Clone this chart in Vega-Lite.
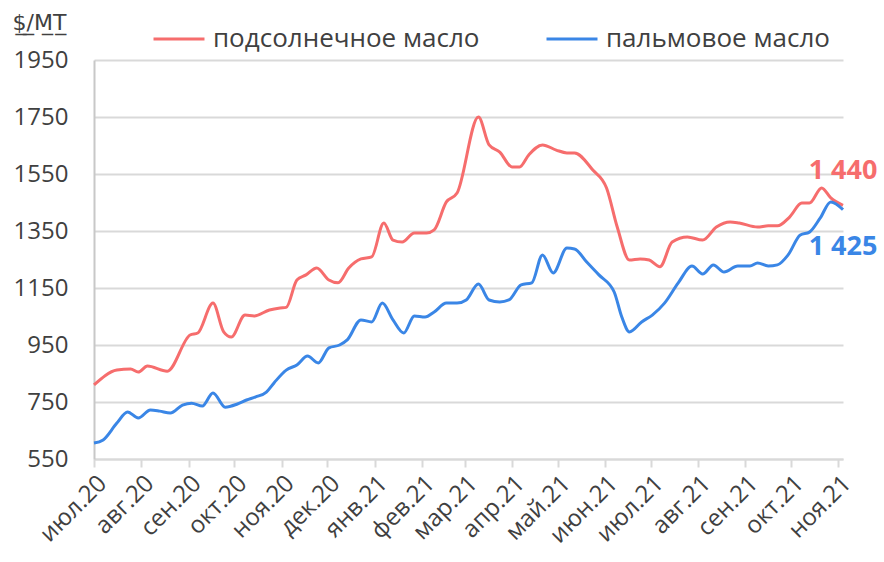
{
  "$schema": "https://vega.github.io/schema/vega-lite/v6.json",
  "width": 749,
  "height": 399,
  "autosize": {"type": "none"},
  "padding": {"left": 94, "top": 60, "right": 41, "bottom": 103},
  "background": "white",
  "config": {"view": {"stroke": null}, "font": "Open Sans"},
  "datasets": {
    "sun": [
      {"date": "2020-07-01", "v": 810}, {"date": "2020-07-16", "v": 862}, {"date": "2020-07-25", "v": 866},
      {"date": "2020-07-30", "v": 855}, {"date": "2020-08-05", "v": 876}, {"date": "2020-08-18", "v": 858},
      {"date": "2020-09-02", "v": 985}, {"date": "2020-09-07", "v": 992}, {"date": "2020-09-17", "v": 1097},
      {"date": "2020-09-24", "v": 996}, {"date": "2020-09-29", "v": 978}, {"date": "2020-10-08", "v": 1055},
      {"date": "2020-10-14", "v": 1052}, {"date": "2020-10-24", "v": 1073}, {"date": "2020-10-31", "v": 1080},
      {"date": "2020-11-04", "v": 1082}, {"date": "2020-11-11", "v": 1178}, {"date": "2020-11-17", "v": 1196},
      {"date": "2020-11-24", "v": 1220}, {"date": "2020-12-02", "v": 1178}, {"date": "2020-12-08", "v": 1168},
      {"date": "2020-12-15", "v": 1220}, {"date": "2020-12-23", "v": 1252}, {"date": "2020-12-30", "v": 1259},
      {"date": "2021-01-07", "v": 1378}, {"date": "2021-01-13", "v": 1318}, {"date": "2021-01-19", "v": 1311},
      {"date": "2021-01-27", "v": 1343}, {"date": "2021-02-04", "v": 1343}, {"date": "2021-02-09", "v": 1354},
      {"date": "2021-02-17", "v": 1452}, {"date": "2021-02-24", "v": 1483}, {"date": "2021-03-10", "v": 1750},
      {"date": "2021-03-17", "v": 1652}, {"date": "2021-03-24", "v": 1627}, {"date": "2021-04-01", "v": 1575},
      {"date": "2021-04-06", "v": 1575}, {"date": "2021-04-12", "v": 1617}, {"date": "2021-04-21", "v": 1652},
      {"date": "2021-04-30", "v": 1634}, {"date": "2021-05-07", "v": 1624}, {"date": "2021-05-12", "v": 1624},
      {"date": "2021-05-24", "v": 1564}, {"date": "2021-06-02", "v": 1501}, {"date": "2021-06-09", "v": 1364},
      {"date": "2021-06-17", "v": 1248}, {"date": "2021-06-24", "v": 1252}, {"date": "2021-06-30", "v": 1248},
      {"date": "2021-07-07", "v": 1225}, {"date": "2021-07-15", "v": 1311}, {"date": "2021-07-25", "v": 1329},
      {"date": "2021-08-04", "v": 1318}, {"date": "2021-08-13", "v": 1364}, {"date": "2021-08-22", "v": 1382},
      {"date": "2021-08-28", "v": 1378}, {"date": "2021-09-09", "v": 1364}, {"date": "2021-09-16", "v": 1368},
      {"date": "2021-09-22", "v": 1368}, {"date": "2021-09-30", "v": 1399}, {"date": "2021-10-08", "v": 1448},
      {"date": "2021-10-13", "v": 1448}, {"date": "2021-10-21", "v": 1501}, {"date": "2021-10-27", "v": 1466},
      {"date": "2021-11-04", "v": 1440, "label": "1 440"}
    ],
    "palm": [
      {"date": "2020-07-01", "v": 606}, {"date": "2020-07-07", "v": 617}, {"date": "2020-07-16", "v": 676},
      {"date": "2020-07-23", "v": 715}, {"date": "2020-07-30", "v": 694}, {"date": "2020-08-07", "v": 722},
      {"date": "2020-08-13", "v": 718}, {"date": "2020-08-20", "v": 711}, {"date": "2020-08-28", "v": 739},
      {"date": "2020-09-03", "v": 746}, {"date": "2020-09-10", "v": 736}, {"date": "2020-09-17", "v": 782},
      {"date": "2020-09-25", "v": 732}, {"date": "2020-10-03", "v": 743}, {"date": "2020-10-09", "v": 757},
      {"date": "2020-10-15", "v": 768}, {"date": "2020-10-22", "v": 785}, {"date": "2020-10-27", "v": 817},
      {"date": "2020-11-04", "v": 862}, {"date": "2020-11-11", "v": 880}, {"date": "2020-11-18", "v": 911},
      {"date": "2020-11-25", "v": 887}, {"date": "2020-12-02", "v": 940}, {"date": "2020-12-09", "v": 950},
      {"date": "2020-12-14", "v": 968}, {"date": "2020-12-23", "v": 1038}, {"date": "2020-12-30", "v": 1031},
      {"date": "2021-01-06", "v": 1097}, {"date": "2021-01-13", "v": 1038}, {"date": "2021-01-20", "v": 992},
      {"date": "2021-01-27", "v": 1052}, {"date": "2021-02-03", "v": 1048}, {"date": "2021-02-09", "v": 1066},
      {"date": "2021-02-17", "v": 1097}, {"date": "2021-02-24", "v": 1097}, {"date": "2021-03-02", "v": 1108},
      {"date": "2021-03-10", "v": 1164}, {"date": "2021-03-17", "v": 1108}, {"date": "2021-03-24", "v": 1101},
      {"date": "2021-03-30", "v": 1108}, {"date": "2021-04-07", "v": 1161}, {"date": "2021-04-14", "v": 1168},
      {"date": "2021-04-21", "v": 1266}, {"date": "2021-04-28", "v": 1203}, {"date": "2021-05-07", "v": 1290},
      {"date": "2021-05-12", "v": 1287}, {"date": "2021-05-20", "v": 1241}, {"date": "2021-05-28", "v": 1196},
      {"date": "2021-06-07", "v": 1136}, {"date": "2021-06-12", "v": 1048}, {"date": "2021-06-17", "v": 996},
      {"date": "2021-06-25", "v": 1031}, {"date": "2021-07-02", "v": 1055}, {"date": "2021-07-10", "v": 1097},
      {"date": "2021-07-19", "v": 1168}, {"date": "2021-07-28", "v": 1227}, {"date": "2021-08-04", "v": 1199},
      {"date": "2021-08-11", "v": 1231}, {"date": "2021-08-18", "v": 1206}, {"date": "2021-08-27", "v": 1227},
      {"date": "2021-09-04", "v": 1227}, {"date": "2021-09-09", "v": 1238}, {"date": "2021-09-16", "v": 1227},
      {"date": "2021-09-22", "v": 1231}, {"date": "2021-09-29", "v": 1266}, {"date": "2021-10-07", "v": 1336},
      {"date": "2021-10-13", "v": 1346}, {"date": "2021-10-20", "v": 1395}, {"date": "2021-10-27", "v": 1452},
      {"date": "2021-11-04", "v": 1425, "label": "1 425"}
    ]
  },
  "data": {"name": "sun"},
  "encoding": {
    "x": {
      "field": "date", "type": "temporal",
      "scale": {"domain": [{"year": 2020, "month": 7, "date": 1}, {"year": 2021, "month": 11, "date": 4}]},
      "axis": {
        "title": null, "grid": false,
        "tickCount": {"interval": "month", "step": 1},
        "labelExpr": "['янв','фев','мар','апр','май','июн','июл','авг','сен','окт','ноя','дек'][month(datum.value)] + '.' + timeFormat(datum.value, '%y')",
        "labelAngle": -45, "labelFontSize": 24, "labelColor": "#404040", "labelPadding": 4,
        "labelOverlap": false, "labelFlush": false,
        "domainColor": "#D9D9D9", "domainWidth": 2,
        "tickColor": "#D9D9D9", "tickWidth": 2, "tickSize": 8
      }
    },
    "y": {
      "field": "v", "type": "quantitative",
      "scale": {"domain": [550, 1950], "nice": false, "zero": false},
      "axis": {
        "values": [550, 750, 950, 1150, 1350, 1550, 1750, 1950], "format": "d",
        "grid": true, "gridColor": "#D9D9D9", "gridWidth": 2,
        "domainColor": "#C8C8C8", "domainWidth": 2, "ticks": false,
        "labelFontSize": 24, "labelColor": "#404040", "labelPadding": 26,
        "title": "$̲/̲М̲Т̲", "titleFont": "DejaVu Sans", "titleAngle": 0, "titleAlign": "left", "titleBaseline": "middle",
        "titleX": -82, "titleY": -38, "titleFontSize": 22, "titleFontWeight": "normal", "titleColor": "#404040"
      }
    }
  },
  "layer": [
    {
      "data": {"name": "sun"},
      "transform": [{"calculate": "'подсолнечное масло'", "as": "s"}],
      "mark": {"type": "line", "interpolate": "monotone", "strokeWidth": 3},
      "encoding": {
        "color": {
          "field": "s", "type": "nominal",
          "scale": {"domain": ["подсолнечное масло", "пальмовое масло"], "range": ["#F66D6D", "#3A86E6"]},
          "legend": {
            "orient": "none", "legendX": 58, "legendY": -48, "direction": "horizontal", "title": null,
            "symbolType": "stroke", "symbolSize": 2600, "symbolStrokeWidth": 3,
            "labelFontSize": 26, "labelColor": "#404040", "labelOffset": 7, "columnPadding": 60, "labelLimit": 400
          }
        }
      }
    },
    {
      "data": {"name": "palm"},
      "transform": [{"calculate": "'пальмовое масло'", "as": "s"}],
      "mark": {"type": "line", "interpolate": "monotone", "strokeWidth": 3},
      "encoding": {"color": {"field": "s", "type": "nominal"}}
    },
    {
      "data": {"name": "sun"},
      "transform": [{"filter": "datum.label"}],
      "mark": {"type": "text", "dy": -34, "align": "center", "fontSize": 27, "fontWeight": "bold", "color": "#F66D6D"},
      "encoding": {"text": {"field": "label"}}
    },
    {
      "data": {"name": "palm"},
      "transform": [{"filter": "datum.label"}],
      "mark": {"type": "text", "dy": 37, "align": "center", "fontSize": 27, "fontWeight": "bold", "color": "#3A86E6"},
      "encoding": {"text": {"field": "label"}}
    }
  ]
}
